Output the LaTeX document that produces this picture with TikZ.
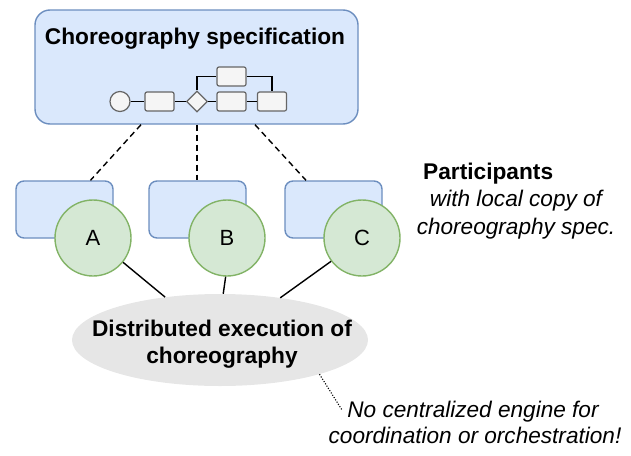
\documentclass[tikz,border=0pt]{standalone}
\usepackage{fontspec}
\setmainfont{Liberation Sans}
\usetikzlibrary{shapes.geometric}
\definecolor{blueF}{HTML}{DAE8FC}
\definecolor{blueD}{HTML}{6C8EBF}
\definecolor{greenF}{HTML}{D5E8D4}
\definecolor{greenD}{HTML}{82B366}
\definecolor{grayF}{HTML}{F5F5F5}
\definecolor{grayD}{HTML}{666666}
\definecolor{ellF}{HTML}{E6E6E6}
\newcommand\bfsz{\fontsize{22.7}{27.5}\selectfont\bfseries}
\newcommand\itsz{\fontsize{22.6}{27.5}\selectfont\itshape}
\newcommand\lettersz{\fontsize{22}{26}\selectfont}
\begin{document}
\begin{tikzpicture}[x=1pt,y=-1pt,
  bluebox/.style={draw=blueD,fill=blueF,line width=1.4pt,inner sep=0pt},
  part/.style={circle,draw=greenD,fill=greenF,line width=1.4pt,minimum size=76pt,inner sep=0pt,font=\lettersz},
  mini/.style={draw=grayD,fill=grayF,line width=1.2pt,rounded corners=2pt,minimum width=29pt,minimum height=19pt,inner sep=0pt},
  minilink/.style={line width=1.5pt},
  link/.style={line width=1.4pt},
  dashlink/.style={line width=1.4pt,dash pattern=on 6pt off 4pt},
  dotlink/.style={line width=1.1pt,dash pattern=on 1.1pt off 1.6pt},
  bt/.style={anchor=base,inner sep=0pt,font=\bfsz},
  it/.style={anchor=base,inner sep=0pt,font=\itsz}
]
\useasboundingbox (0,0) rectangle (631,455);

% top specification box
\node[bluebox,rounded corners=15pt,minimum width=323pt,minimum height=114pt] (spec) at (196.5,67) {};
\node[bt] (title) at (195,44.5) {Choreography specification};

% mini process diagram
\node[circle,draw=grayD,fill=grayF,line width=1.2pt,minimum size=20pt,inner sep=0pt] (st) at (120,101.5) {};
\node[mini] (t1) at (159.5,101.5) {};
\node[diamond,aspect=1,draw=grayD,fill=grayF,line width=1.2pt,minimum width=21pt,minimum height=21pt,inner sep=0pt] (gw) at (197,101.5) {};
\node[mini] (t2) at (231.5,101.5) {};
\node[mini] (t3) at (272,101.5) {};
\node[mini] (t4) at (231.5,76.5) {};
\draw[minilink] (st.east) -- (t1.west);
\draw[minilink] (t1.east) -- (gw.west);
\draw[minilink] (gw.east) -- (t2.west);
\draw[minilink] (t2.east) -- (t3.west);
\draw[minilink] (gw.north) |- (t4.west);
\draw[minilink] (t4.east) -| (t3.north);

% participant boxes
\node[bluebox,rounded corners=8pt,minimum width=97pt,minimum height=57pt] (pA) at (64.5,209.5) {};
\node[bluebox,rounded corners=8pt,minimum width=97pt,minimum height=57pt] (pB) at (197.5,209.5) {};
\node[bluebox,rounded corners=8pt,minimum width=97pt,minimum height=57pt] (pC) at (333.5,209.5) {};

% dashed links
\draw[dashlink] ([xshift=-55.5pt]spec.south) -- ([xshift=26pt]pA.north);
\draw[dashlink] ([xshift=0.5pt]spec.south) -- ([xshift=-0.5pt]pB.north);
\draw[dashlink] ([xshift=58.5pt]spec.south) -- ([xshift=-27.5pt]pC.north);

% participants
\node[part] (cA) at (93,238) {A};
\node[part] (cB) at (227,238) {B};
\node[part] (cC) at (362,238) {C};

% execution ellipse
\node[ellipse,fill=ellF,minimum width=296pt,minimum height=92pt,inner sep=0pt] (el) at (220,340) {};
\node[bt] (ex1) at (222,336.5) {Distributed execution of};
\node[bt] (ex2) at (222,363.5) {choreography};

\draw[link] (cA.-39) -- (el.142);
\draw[link] (cB.-92) -- (el.86);
\draw[link] (cC.217) -- (el.35);

% participants label
\node[bt,anchor=base west] (plab) at (423,179.5) {Participants};
\node[it] (pl1) at (516,206.5) {with local copy of};
\node[it] (pl2) at (516,234) {choreography spec.};

% note
\coordinate (noteend) at (342,410);
\draw[dotlink] (el.-19) -- (noteend);
\node[it] (n1) at (473,417) {No centralized engine for};
\node[it] (n2) at (475,443.5) {coordination or orchestration!};
\end{tikzpicture}
\end{document}
